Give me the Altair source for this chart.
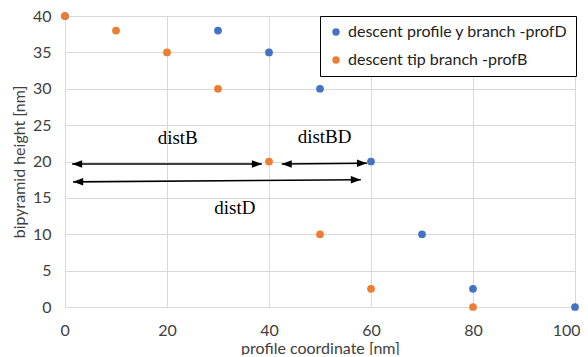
import altair as alt
import pandas as pd

# series data
blue_x = [0, 30, 40, 50, 60, 70, 80, 100]
blue_y = [40, 38, 35, 30, 20, 10, 2.5, 0]
orange_x = [0, 10, 20, 30, 40, 50, 60, 80]
orange_y = [40, 38, 35, 30, 20, 10, 2.5, 0]
series_names = ["descent profile y branch -profD", "descent tip branch -profB"]
series_colors = ["#4472C4", "#ED7D31"]

# annotation arrows
arrow_x1 = [1.4, 42.5, 1.6]
arrow_x2 = [38.6, 59.2, 58.0]
arrow_y1 = [19.65, 19.65, 17.2]
arrow_y2 = [19.65, 19.75, 17.5]

# annotation labels
label_text = ["distB", "distBD", "distD"]
label_x = [22.1, 50.9, 33.3]
label_y = [23.2, 23.3, 13.6]

x_ticks = [0, 20, 40, 60, 80, 100]
y_ticks = [0, 5, 10, 15, 20, 25, 30, 35, 40]

pts = pd.DataFrame({
    "x": blue_x + orange_x,
    "y": blue_y + orange_y,
    "series": [series_names[0]] * len(blue_x) + [series_names[1]] * len(orange_x),
})
arrows = pd.DataFrame({"x1": arrow_x1, "x2": arrow_x2, "y1": arrow_y1, "y2": arrow_y2})
labels = pd.DataFrame({"t": label_text, "x": label_x, "y": label_y})

xs = alt.Scale(domain=[0, 100], nice=False, zero=False)
ys = alt.Scale(domain=[0, 40], nice=False, zero=False)

xax = alt.Axis(values=x_ticks, title="profile coordinate [nm]", grid=True, domain=False,
               ticks=False, labelPadding=15, titlePadding=2, labelOverlap=False,
               labelFlush=True, labelFlushOffset=5)
yax = alt.Axis(values=y_ticks, title="bipyramid height [nm]", grid=True, domain=False,
               ticks=False, labelPadding=14, titlePadding=5, labelOverlap=False, labelFlush=False)

scatter = alt.Chart(pts).mark_circle(size=60, opacity=1).encode(
    x=alt.X("x:Q", scale=xs, axis=xax),
    y=alt.Y("y:Q", scale=ys, axis=yax),
    color=alt.Color("series:N", scale=alt.Scale(domain=series_names, range=series_colors),
                    legend=alt.Legend(title=None, orient="none", legendX=255, legendY=0,
                                      strokeColor="black", fillColor="white", padding=8,
                                      symbolType="circle", symbolSize=55, labelFontSize=16,
                                      labelFont="Lato", labelColor="#222222", rowPadding=12,
                                      labelLimit=400, labelOffset=4)),
)

lines = alt.Chart(arrows).mark_rule(color="black", strokeWidth=1.6).encode(
    x=alt.X("x1:Q", scale=xs, axis=xax), x2="x2:Q",
    y=alt.Y("y1:Q", scale=ys, axis=yax), y2="y2:Q",
)

right_head = alt.Chart(arrows).mark_point(
    shape="M0,0 L-2,-0.75 L-2,0.75 Z", filled=True, color="black", opacity=1, size=100
).encode(x=alt.X("x2:Q", scale=xs, axis=xax), y=alt.Y("y2:Q", scale=ys, axis=yax))

left_head = alt.Chart(arrows).mark_point(
    shape="M0,0 L2,-0.75 L2,0.75 Z", filled=True, color="black", opacity=1, size=100
).encode(x=alt.X("x1:Q", scale=xs, axis=xax), y=alt.Y("y1:Q", scale=ys, axis=yax))

texts = alt.Chart(labels).mark_text(font="Liberation Serif", fontSize=19, color="black").encode(
    x=alt.X("x:Q", scale=xs, axis=xax), y=alt.Y("y:Q", scale=ys, axis=yax), text="t:N"
)

chart = alt.layer(scatter, lines, right_head, left_head, texts).properties(
    width=510, height=291,
    padding={"left": 57, "top": 8, "right": 5, "bottom": 48},
    autosize=alt.AutoSizeParams(type="none"),
).configure_view(stroke=None).configure_axis(
    gridColor="#d9d9d9", gridWidth=1, labelFont="Lato", labelFontSize=16,
    labelColor="#404040", titleFont="Lato", titleFontSize=16, titleColor="#404040",
    titleFontWeight="normal",
)

chart.save("out.html", embed_options={"renderer": "svg", "actions": False})
